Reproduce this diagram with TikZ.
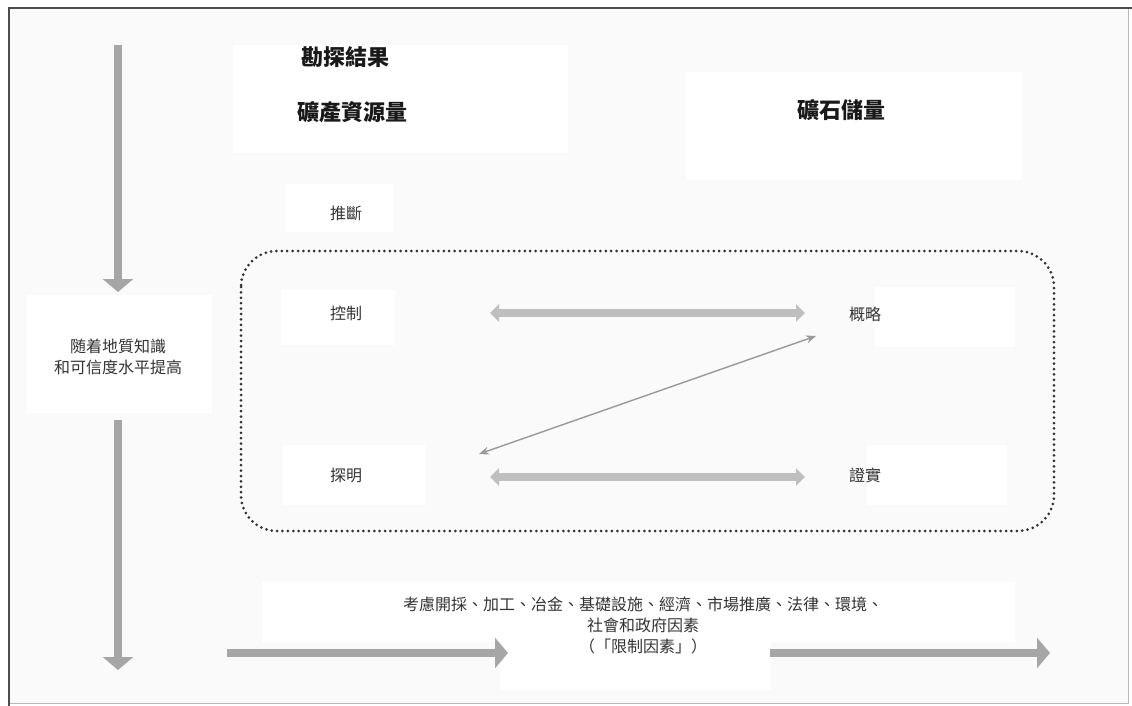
\documentclass[tikz,border=0pt]{standalone}
\usepackage{fontspec}
\newfontfamily\cjk{Noto Sans CJK TC}
\usetikzlibrary{arrows.meta}
\begin{document}
\begin{tikzpicture}[x=1pt,y=-1pt,
  wbox/.style={fill=white},
  lbl/.style={font=\cjk\fontsize{16}{21}\selectfont, text=black!80, inner sep=0pt, align=center},
  headtxt/.style={font=\cjk\bfseries\fontsize{22}{22}\selectfont, text=black!90, inner sep=0pt},
  bigarrow/.style={draw=gray!70, line width=8pt, -{Triangle[width=30pt,length=13pt]}},
  harrow/.style={draw=gray!50, line width=8pt, {Triangle[width=17pt,length=9pt]}-{Triangle[width=17pt,length=9pt]}},
  thinarrow/.style={draw=gray!80, line width=1.4pt, {Stealth[width=8pt,length=10pt]}-{Stealth[width=8pt,length=10pt]}},
  dotbox/.style={draw=black!80, line width=3pt, line cap=round, dash pattern=on 0pt off 5.4pt, rounded corners=36pt}
]
\useasboundingbox (0,0) rectangle (1132,706);
% background and frame
\fill[gray!4] (9,9) rectangle (1128,703);
\draw[gray!55, line width=1pt] (1128,9) -- (1128,703) -- (9,703);
\draw[black!70, line width=2.5pt] (9,706) -- (9,8) -- (1132,8);

% white boxes
\fill[wbox] (233,45) rectangle (568,153);
\fill[wbox] (685,72) rectangle (1022,180);
\fill[wbox] (285,184) rectangle (393,232);
\fill[wbox] (281,290) rectangle (395,345);
\fill[wbox] (283,445) rectangle (425,505);
\fill[wbox] (875,287) rectangle (1015,347);
\fill[wbox] (867,445) rectangle (1007,505);
\fill[wbox] (27,295) rectangle (212,413);
\fill[wbox] (262,582) rectangle (1015,642);
\fill[wbox] (500,640) rectangle (771,690);

% dotted frame
\draw[dotbox] (241,251) rectangle (1054,531);

% texts
\node[headtxt] (kt) at (345,57) {勘探結果};
\node[headtxt] (zy) at (352,112) {礦產資源量};
\node[headtxt] (cl) at (841,110) {礦石儲量};
\node[lbl] (tuiduan) at (346,213) {推斷};
\node[lbl] (kongzhi) at (346,313) {控制};
\node[lbl] (tanming) at (346,475) {探明};
\node[lbl] (gailue) at (865,314) {概略};
\node[lbl] (zhengshi) at (865,475) {證實};
\node[lbl] (left) at (118,357) {随着地質知識\\和可信度水平提高};
\node[lbl] (bottom) at (643,625) {考慮開採、加工、冶金、基礎設施、經濟、市場推廣、法律、環境、\\社會和政府因素\\（「限制因素」）};

% arrow end points
\coordinate (v1a) at (118,45);
\coordinate (v1b) at (118,292);
\coordinate (v2a) at (118,420);
\coordinate (v2b) at (118,670);
\coordinate (b1a) at (227,653);
\coordinate (b1b) at (508,653);
\coordinate (b2a) at (770,653);
\coordinate (b2b) at (1050,653);
\coordinate (h1a) at (490,313);
\coordinate (h1b) at (805,313);
\coordinate (h2a) at (490,477);
\coordinate (h2b) at (805,477);
\coordinate (d1) at (479,454);
\coordinate (d2) at (816,336);

\draw[bigarrow] (v1a) -- (v1b);
\draw[bigarrow] (v2a) -- (v2b);
\draw[bigarrow] (b1a) -- (b1b);
\draw[bigarrow] (b2a) -- (b2b);
\draw[harrow] (h1a) -- (h1b);
\draw[harrow] (h2a) -- (h2b);
\draw[thinarrow] (d1) -- (d2);
\end{tikzpicture}
\end{document}
